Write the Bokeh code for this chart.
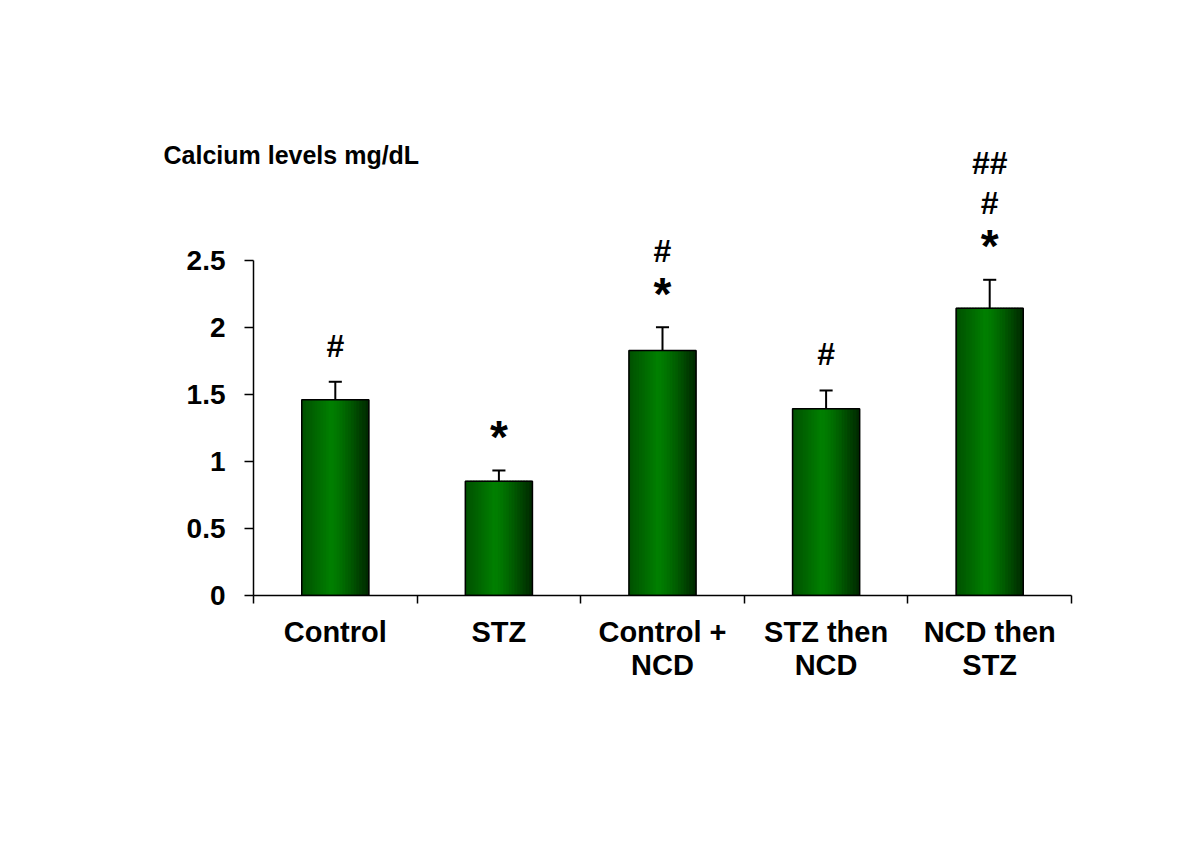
from bokeh.plotting import figure
from bokeh.models import Range1d, FixedTicker
from bokeh.core.properties import value
from bokeh.embed import file_html
from bokeh.resources import INLINE

# ---- data ----
categories = ["Control", "STZ", "Control +\nNCD", "STZ then\nNCD", "NCD then\nSTZ"]
means = [1.46, 0.853, 1.828, 1.393, 2.144]
errors = [0.135, 0.08, 0.174, 0.137, 0.212]
marks = [["#"], ["*"], ["*", "#"], ["#"], ["*", "#", "##"]]
yticks = [0, 0.5, 1, 1.5, 2, 2.5]
ytick_labels = ["0", "0.5", "1", "1.5", "2", "2.5"]
y_title = "Calcium levels mg/dL"

FONT = "Liberation Sans"
n = len(categories)
xs = [i + 0.5 for i in range(n)]

p = figure(width=1184, height=833, output_backend="svg", toolbar_location=None,
           x_range=Range1d(0, n), y_range=Range1d(0, 3.5),
           min_border_left=253, min_border_right=113, min_border_top=126,
           min_border_bottom=238)
p.outline_line_color = None
p.grid.visible = False
p.background_fill_color = "white"
p.border_fill_color = "white"

# title used as the value-axis caption (top-left)
p.title.text = y_title
p.title.align = "left"
p.title.offset = -90
p.title.standoff = -85
p.title.text_font = FONT
p.title.text_font_style = "bold"
p.title.text_font_size = "25px"
p.title.text_color = "black"

# gradient bars built from vertical strips
BW = 0.41
N = 24
def lerp(c1, c2, t):
    return "#%02x%02x%02x" % tuple(int(round(a + (b - a) * t)) for a, b in zip(c1, c2))
left_c, mid_c, right_c = (0, 78, 0), (0, 128, 0), (0, 40, 0)
for k in range(N):
    t = (k + 0.5) / N
    if t < 0.45:
        col = lerp(left_c, mid_c, t / 0.45)
    else:
        col = lerp(mid_c, right_c, ((t - 0.45) / 0.55) ** 1.3)
    off = -BW / 2 + (k + 0.5) * BW / N
    w = BW / N * (1.6 if 0 < k < N - 1 else 1.0)
    p.vbar(x=[x + off for x in xs], top=means, bottom=0, width=w,
           fill_color=col, line_color=col, line_width=0.6)
p.vbar(x=xs, top=means, bottom=0, width=BW, fill_alpha=0, line_color="black", line_width=1.5)

# error bars (upper only)
tops = [m + e for m, e in zip(means, errors)]
p.segment(x0=xs, y0=means, x1=xs, y1=tops, line_color="black", line_width=2)
p.segment(x0=[x - 0.04 for x in xs], y0=tops, x1=[x + 0.04 for x in xs], y1=tops,
          line_color="black", line_width=2)

# significance marks
for x, t, ms in zip(xs, tops, marks):
    for i, m in enumerate(ms):
        y = t + 0.27 + i * 0.3
        if m == "*":
            p.text(x=[x], y=[y - 0.02], text=[m], text_align="center", text_baseline="middle",
                   text_font=value(FONT), text_font_style="bold", text_font_size="46px",
                   text_color="black")
        else:
            p.text(x=[x], y=[y], text=[m], text_align="center", text_baseline="middle",
                   text_font=value(FONT), text_font_style="bold", text_font_size="32px",
                   text_color="black")

# y axis
ya = p.yaxis[0]
ya.bounds = (0, 2.5)
ya.ticker = FixedTicker(ticks=yticks)
ya.major_label_overrides = {t: l for t, l in zip(yticks, ytick_labels)}
ya.major_tick_in = 0
ya.major_tick_out = 9
ya.minor_tick_out = 0
ya.minor_tick_in = 0
ya.axis_line_width = 1.5
ya.major_tick_line_width = 1.5
ya.major_label_text_font = FONT
ya.major_label_text_font_style = "bold"
ya.major_label_text_font_size = "28px"
ya.major_label_text_color = "black"
ya.major_label_standoff = 19

# x axis
xa = p.xaxis[0]
xa.ticker = FixedTicker(ticks=xs, minor_ticks=list(range(n + 1)))
xa.major_label_overrides = {x: c for x, c in zip(xs, categories)}
xa.major_tick_in = 0
xa.major_tick_out = 0
xa.minor_tick_in = 0
xa.minor_tick_out = 8
xa.minor_tick_line_width = 1.5
xa.axis_line_width = 1.5
xa.major_label_text_font = FONT
xa.major_label_text_font_style = "bold"
xa.major_label_text_font_size = "29px"
xa.major_label_text_color = "black"
xa.major_label_text_line_height = 1.05
xa.major_label_standoff = 12

open("out.html", "w").write(file_html(p, INLINE))
